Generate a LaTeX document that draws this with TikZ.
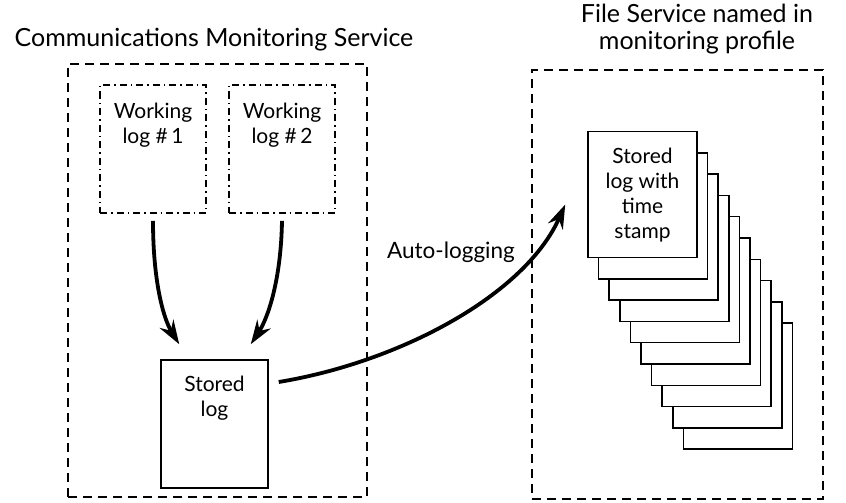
\documentclass[tikz,border=0pt]{standalone}
\usepackage{fontspec}
\setmainfont{Lato}
\usepackage{tikz}
\usetikzlibrary{positioning, arrows.meta}

\begin{document}
\begin{tikzpicture}[
  x=1pt, y=-1pt,
  label/.style={font=\fontsize{21}{25}\selectfont, align=center, inner sep=0pt},
  title/.style={label, font=\fontsize{25}{27}\selectfont},
  service/.style={draw, line width=1.8pt, dash pattern=on 9pt off 6pt},
  worklog/.style={draw, line width=1.6pt, dash pattern=on 7pt off 4pt on 1.5pt off 4pt, minimum width=106pt, minimum height=128pt, inner sep=0pt},
  logbox/.style={draw, line width=1.5pt, fill=white, minimum width=109pt, minimum height=126pt, inner sep=0pt},
  arrow/.style={-{Stealth[length=24pt, width=16pt, inset=8pt]}, line width=3.8pt}
]
  \useasboundingbox (0,0) rectangle (846,503);

  % Communications Monitoring Service
  \node[service, minimum width=299pt, minimum height=433pt] (cms) at (217.5,280.5) {};
  \node[title] (cmstitle) at (214,40) {Communications Monitoring Service};

  % working logs
  \node[worklog] (wl1) at (153,149) {};
  \node[label, below=19pt of wl1.north] (wl1text) {Working\\log \#\,1};
  \node[worklog] (wl2) at (282,149) {};
  \node[label, below=19pt of wl2.north] (wl2text) {Working\\log \#\,2};

  % stored log
  \node[logbox, minimum width=107pt, minimum height=128pt] (slog) at (214.5,424) {};
  \node[label, below=17pt of slog.north] (slogtext) {Stored\\log};

  % File Service
  \node[service, minimum width=291pt, minimum height=429pt] (fs) at (677.5,284.5) {};
  \node[title] (fstitle) at (697,29) {File Service named in\\monitoring profile};

  % stack of stored logs, back to front
  \foreach \i in {9,...,0}
    \node[logbox] (doc\i) at ({642.5+10.6*\i},{194.5+21.3*\i}) {};
  \node[label, below=17pt of doc0.north] (doc0text) {Stored\\log with\\time\\stamp};

  % merging into stored log
  \draw[arrow] ([yshift=-7pt]wl1.south) .. controls (153,280) and (163,318) .. ([xshift=19pt,yshift=15pt]slog.north west);
  \draw[arrow] ([yshift=-7pt]wl2.south) .. controls (281,280) and (268,318) .. ([xshift=-18pt,yshift=15pt]slog.north east);

  % auto-logging
  \draw[arrow] ([xshift=10pt,yshift=42pt]slog.east) .. controls (400,362) and (525,295) .. ([xshift=-22pt,yshift=-10pt]doc0.west);
  \node[label, font=\fontsize{22.5}{26}\selectfont] (autolog) at (451,252) {Auto-logging};
\end{tikzpicture}
\end{document}
